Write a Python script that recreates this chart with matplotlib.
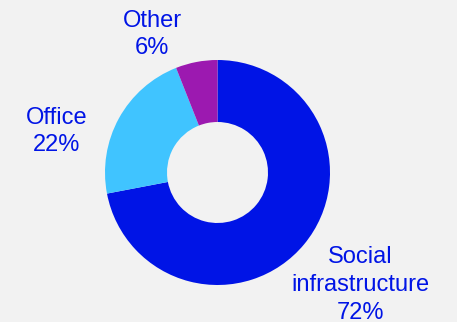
import matplotlib.pyplot as plt

# Anteile der Kategorien
labels = ['Social\ninfrastructure', 'Office', 'Other']
shares = [72, 22, 6]
colors = ['#0014e6', '#40c4ff', '#9c19b0']

bg = '#f2f2f2'
txt_col = '#0014e6'

fig = plt.figure(figsize=(4.57, 3.22), dpi=100, facecolor=bg)
ax = fig.add_axes([0, 0, 1, 1])
ax.set_facecolor(bg)

# Ring-Diagramm im Uhrzeigersinn ab 12 Uhr
cx, cy, r = 217.5, 322 - 172.5, 112.5
ax.pie(shares, colors=colors, startangle=90, counterclock=False,
       center=(cx, cy), radius=r, frame=True,
       wedgeprops=dict(width=r - 50.5, edgecolor='none'))

ax.set_xlim(0, 457)
ax.set_ylim(0, 322)
ax.set_aspect('equal')
ax.axis('off')

# Beschriftungen
pos = [(360, 37), (57, 190.5), (152, 287.5)]
for lab, s, (x, y) in zip(labels, shares, pos):
    ax.text(x, y, f'{lab}\n{s}%', ha='center', va='center', ma='center',
            fontsize=17, color=txt_col, family='Liberation Sans',
            linespacing=1.34)

fig.savefig('out.png', dpi=100, facecolor=bg)
